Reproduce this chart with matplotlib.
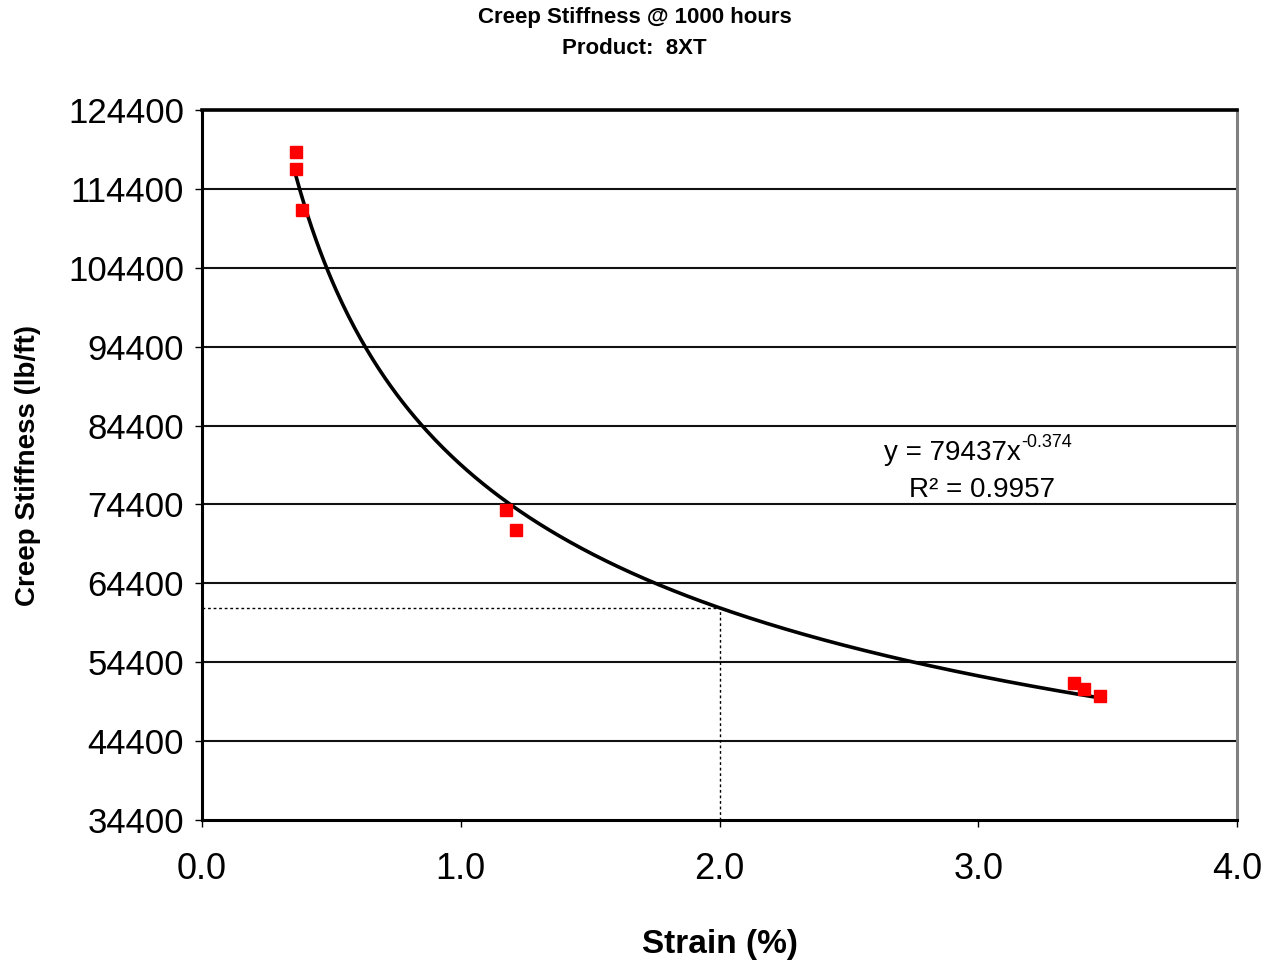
import numpy as np
import matplotlib
matplotlib.use("Agg")
import matplotlib.pyplot as plt

# measured creep stiffness vs strain, 1000 h
strain = [0.363, 0.365, 0.386, 1.173, 1.215, 3.370, 3.409, 3.471]
stiffness = [119076, 116921, 111724, 73696, 71214, 51767, 50943, 50120]

# power-law fit y = a * x^b
fit_a = 79437
fit_b = -0.374
fit_r2 = 0.9957
design_strain = 2.0

yticks = [34400, 44400, 54400, 64400, 74400, 84400, 94400, 104400, 114400, 124400]
xticks = [0.0, 1.0, 2.0, 3.0, 4.0]

plt.rcParams["font.family"] = ["Liberation Sans", "DejaVu Sans"]

fig = plt.figure(figsize=(12.69, 9.73), dpi=100)
ax = fig.add_axes([202 / 1269, 1 - 820 / 973, 1035 / 1269, 710 / 973])

ax.set_xlim(0, 4)
ax.set_ylim(34400, 124400)

# horizontal gridlines
for t in yticks[1:]:
    ax.axhline(t, color="#111111", lw=1.5, zorder=1)

# fitted curve across the data range
xs = np.linspace(min(strain), max(strain), 400)
ax.plot(xs, fit_a * xs ** fit_b, color="black", lw=2.6, zorder=3)

# dotted guide at the design strain
y_design = fit_a * design_strain ** fit_b
ax.plot([0, design_strain], [y_design, y_design], color="black", lw=1.0,
        ls=(0, (2, 2)), zorder=2)
ax.plot([design_strain, design_strain], [34400, y_design], color="black", lw=1.0,
        ls=(0, (2, 2)), zorder=2)

ax.plot(strain, stiffness, "s", color="red", ms=9, mec="red", zorder=4)

ax.set_xticks(xticks)
ax.set_xticklabels(["%.1f" % v for v in xticks])
ax.set_yticks(yticks)
ax.set_yticklabels([str(v) for v in yticks])
ax.tick_params(axis="both", direction="out", length=5, width=1, pad=6)
ax.tick_params(axis="y", labelsize=25, pad=8)
ax.tick_params(axis="x", labelsize=26, pad=18)

for side in ["left", "bottom"]:
    ax.spines[side].set_color("black")
    ax.spines[side].set_linewidth(2.2)
ax.spines["top"].set_linewidth(2.6)
ax.spines["top"].set_color("black")
ax.spines["right"].set_color("#808080")
ax.spines["right"].set_linewidth(2.2)

ax.set_xlabel("Strain (%)", fontsize=24, fontweight="bold", labelpad=30)
ax.set_ylabel("Creep Stiffness (lb/ft)", fontsize=20, fontweight="bold")
ax.yaxis.set_label_coords(-0.156, 0.5)

# fit equation with a plain-hyphen exponent
ax.text(3.165, 80900, "y = %dx" % fit_a, fontsize=20, ha="right", va="center")
ax.text(3.165, 82300, "%.3f" % fit_b, fontsize=13, ha="left", va="center")
ax.text(3.016, 76200, "R² = %.4f" % fit_r2, fontsize=20, ha="center", va="center")

fig.text(0.5, 1 - 18 / 973, "Creep Stiffness @ 1000 hours", ha="center", va="center",
         fontsize=16, fontweight="bold")
fig.text(0.5, 1 - 48 / 973, "Product:  8XT", ha="center", va="center",
         fontsize=16, fontweight="bold")

fig.savefig("out.png", dpi=100)
